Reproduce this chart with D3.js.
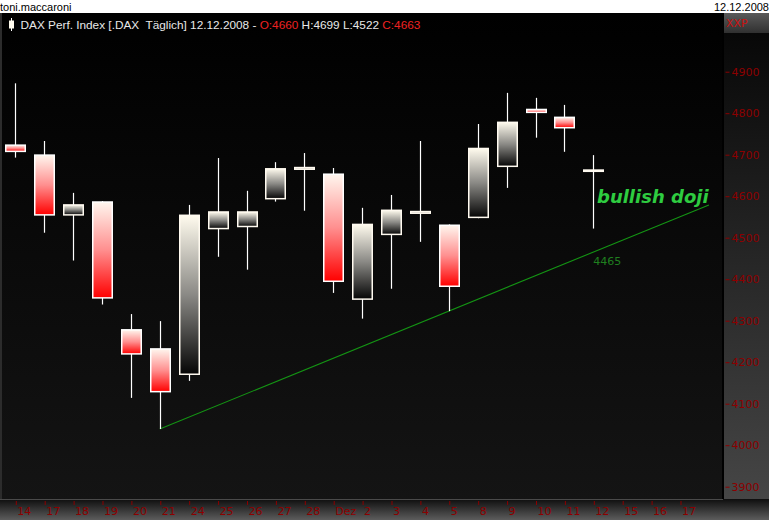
<!DOCTYPE html>
<html>
<head>
<meta charset="utf-8">
<script src="https://cdn.jsdelivr.net/npm/d3@7"></script>
<style>
  html, body { margin: 0; padding: 0; background: #fff; }
  svg { display: block; }
</style>
</head>
<body>
<div id="chart"></div>
<script>
// ---- data ----
const dates = ["14","17","18","19","20","21","24","25","26","27","28","Dez","2","3","4","5","8","9","10","11","12","15","16","17"];
const opens  = [4723,4699,4555,4586,4278,4232,4171,4522,4527,4594,4665,4653,4352,4508,4559,4530,4549,4672,4809,4790,4660];
const highs  = [4872,4733,4608,4588,4316,4299,4579,4692,4613,4682,4704,4668,4572,4603,4733,4532,4774,4849,4837,4820,4699];
const lows   = [4693,4512,4445,4339,4114,4039,4155,4454,4423,4587,4565,4367,4305,4377,4490,4323,4547,4620,4741,4707,4522];
const closes = [4708,4555,4579,4355,4220,4129,4554,4562,4562,4666,4669,4395,4532,4566,4563,4383,4715,4778,4802,4765,4663];
const yTicks = [3900,4000,4100,4200,4300,4400,4500,4600,4700,4800,4900];
const trendIdx = [5, 24];
const trendVal = [4039, 4579];
const trendLabel = "4465";
const trendLabelIdx = 20;
const titleParts = [
  {t:"DAX Perf. Index [.DAX  Täglich] 12.12.2008 - ", c:"#e8e8e8"},
  {t:"O:4660", c:"#ee2222"},
  {t:" H:4699 L:4522 ", c:"#e8e8e8"},
  {t:"C:4663", c:"#ee2222"}
];

// ---- layout ----
const W = 769, H = 520;
const svg = d3.select("#chart").append("svg").attr("width", W).attr("height", H);
const defs = svg.append("defs");

function vGrad(id, stops) {
  const g = defs.append("linearGradient").attr("id", id).attr("x1",0).attr("y1",0).attr("x2",0).attr("y2",1);
  stops.forEach(s => g.append("stop").attr("offset", s[0]).attr("stop-color", s[1]));
}
vGrad("bgGrad", [["0%","#000000"],["100%","#141414"]]);
vGrad("axisGrad", [["0%","#050505"],["100%","#464646"]]);
vGrad("boxGrad", [["0%","#5a5a5a"],["100%","#303030"]]);
vGrad("botGrad", [["0%","#0e0e0e"],["100%","#5c5c5c"]]);
vGrad("upGrad", [["0%","#fffbee"],["50%","#8a8985"],["100%","#050505"]]);
vGrad("downGrad", [["0%","#fff6ee"],["50%","#ff8f8f"],["100%","#ff0000"]]);

// white header
svg.append("rect").attr("x",0).attr("y",0).attr("width",W).attr("height",13).attr("fill","#fff");
svg.append("text").attr("x",0).attr("y",10.5).attr("font-family","Liberation Sans, Arial, sans-serif")
  .attr("font-size",11).attr("fill","#000").text("toni.maccaroni");
svg.append("text").attr("x",W).attr("y",10.5).attr("text-anchor","end").attr("font-family","Liberation Sans, Arial, sans-serif")
  .attr("font-size",11).attr("fill","#000").text("12.12.2008");

// panels
svg.append("rect").attr("x",0).attr("y",13).attr("width",724).attr("height",487).attr("fill","url(#bgGrad)");
svg.append("rect").attr("x",0).attr("y",13).attr("width",2).attr("height",487).attr("fill","#2c2c2c");
svg.append("rect").attr("x",724).attr("y",13).attr("width",45).attr("height",487).attr("fill","url(#axisGrad)");
svg.append("rect").attr("x",722).attr("y",13).attr("width",2).attr("height",487).attr("fill","#000");
svg.append("rect").attr("x",0).attr("y",499).attr("width",W).attr("height",21).attr("fill","url(#botGrad)");
svg.append("line").attr("x1",0).attr("x2",723).attr("y1",499.5).attr("y2",499.5).attr("stroke","#4a4a4a");
svg.append("rect").attr("x",724).attr("y",13).attr("width",45).attr("height",20).attr("fill","url(#boxGrad)");
svg.append("text").attr("x",726).attr("y",27).attr("font-family","DejaVu Sans, sans-serif")
  .attr("font-size",11).attr("fill","#cc1111").text("XXP");

// title
svg.append("line").attr("x1",11.5).attr("x2",11.5).attr("y1",18).attr("y2",31).attr("stroke","#fff");
svg.append("rect").attr("x",9).attr("y",20.5).attr("width",5).attr("height",8).attr("fill","#fffbee");
const title = svg.append("text").attr("x",20.5).attr("y",28.5)
  .attr("font-family","Liberation Sans, Arial, sans-serif").attr("font-size",11.8);
titleParts.forEach(p => title.append("tspan").attr("fill",p.c).text(p.t));
title.attr("style","white-space:pre");

// scales
const x = d3.scaleLinear().domain([0, dates.length - 1]).range([15.3, 680]);
const y = d3.scaleLinear().domain([3900, 4900]).range([486.7, 71.7]);
const bw = 19.5;

// axes
const yAxis = svg.append("g").attr("transform","translate(725.5,0)")
  .call(d3.axisRight(y).tickValues(yTicks).tickSize(4).tickPadding(2).tickFormat(d3.format("d")));
yAxis.select(".domain").remove();
yAxis.selectAll("line").attr("stroke","#8c0000");
yAxis.selectAll("text").attr("fill","#8c0000").attr("font-family","DejaVu Sans, sans-serif").attr("font-size",11);

const xAxis = svg.append("g").attr("transform","translate(0.5,501)")
  .call(d3.axisBottom(x).tickValues(d3.range(dates.length)).tickSize(4).tickFormat(i => dates[i]));
xAxis.select(".domain").remove();
xAxis.selectAll("line").attr("stroke","#8c0000");
xAxis.selectAll("text").attr("fill","#8c0000").attr("font-family","DejaVu Sans, sans-serif").attr("font-size",11)
  .attr("text-anchor","start").attr("x",1).attr("y",6).attr("dy","0.71em");

// trendline
svg.append("line")
  .attr("x1", x(trendIdx[0])).attr("y1", y(trendVal[0]))
  .attr("x2", x(trendIdx[1])).attr("y2", y(trendVal[1]))
  .attr("stroke","#149414").attr("stroke-width",1.1);
svg.append("text").attr("x", x(trendLabelIdx)).attr("y", y(+trendLabel) + 12.5)
  .attr("font-family","DejaVu Sans, sans-serif").attr("font-size",11).attr("fill","#1f7f1f").text(trendLabel);

// candles
const candles = opens.map((o,i) => ({i, o, h:highs[i], l:lows[i], c:closes[i]}));
const cg = svg.append("g");
cg.selectAll("line.wick").data(candles).join("line").attr("class","wick")
  .attr("x1", d => Math.round(x(d.i)) + 0.5).attr("x2", d => Math.round(x(d.i)) + 0.5)
  .attr("y1", d => y(d.h)).attr("y2", d => y(d.l))
  .attr("stroke","#fff").attr("stroke-width",1.2);
cg.selectAll("rect.body").data(candles).join("rect").attr("class","body")
  .attr("x", d => Math.round(x(d.i)) + 0.5 - bw/2)
  .attr("width", bw)
  .attr("y", d => y(Math.max(d.o, d.c)))
  .attr("height", d => Math.max(0.8, Math.abs(y(d.o) - y(d.c))))
  .attr("fill", d => d.c >= d.o ? "url(#upGrad)" : "url(#downGrad)")
  .attr("stroke", d => d.c >= d.o ? "#fffaf0" : "#ffffff")
  .attr("stroke-width",1.5);

// annotation
svg.append("text").attr("x",597).attr("y",203)
  .attr("font-family","DejaVu Sans, sans-serif").attr("font-size",18)
  .attr("font-weight","bold").attr("font-style","italic").attr("fill","#2ecc40").text("bullish doji");
</script>
</body>
</html>
